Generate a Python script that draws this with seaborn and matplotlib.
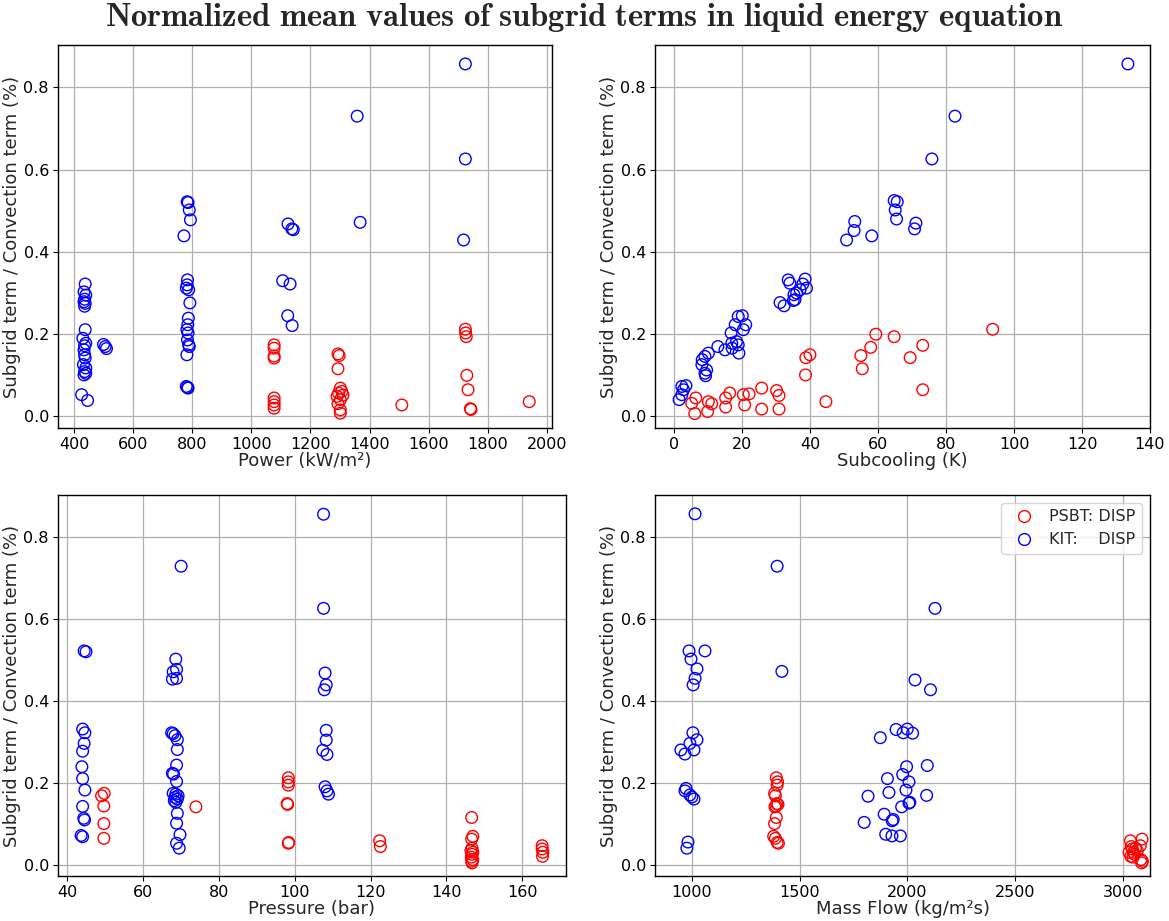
import numpy as np
import pandas as pd
import matplotlib
matplotlib.use("Agg")
import matplotlib.pyplot as plt
from matplotlib.lines import Line2D
import seaborn as sns

# ---------------- data ----------------
# Panel 1: Power (kW/m2)
p1_red_x = [1077, 1077, 1077, 1077, 1077, 1077, 1077, 1077,
            1293, 1297, 1293, 1301, 1306, 1295, 1310, 1290, 1301, 1293, 1301, 1301,
            1509,
            1724, 1725, 1727, 1729, 1733, 1741, 1743,
            1940]
p1_red_y = [0.174, 0.166, 0.147, 0.142, 0.045, 0.036, 0.028, 0.020,
            0.152, 0.148, 0.116, 0.069, 0.061, 0.057, 0.052, 0.049, 0.041, 0.031, 0.016, 0.008,
            0.028,
            0.212, 0.203, 0.194, 0.100, 0.065, 0.019, 0.017,
            0.036]
p1_blue_x = [438, 434, 440, 436, 434, 438, 436, 438, 430, 440, 436, 434, 436, 438, 432, 440, 436, 434, 440, 426, 446,
             500, 506, 510,
             783, 786, 790, 794, 772, 784, 783, 780, 788, 792, 787, 785, 782, 786, 784, 788, 790, 782, 780, 784, 786,
             1124, 1137, 1142, 1106, 1131, 1123, 1138,
             1368, 1358,
             1724, 1724, 1718]
p1_blue_y = [0.322, 0.303, 0.295, 0.285, 0.279, 0.275, 0.268, 0.211, 0.190, 0.178, 0.172, 0.162, 0.150, 0.142, 0.126, 0.118, 0.109, 0.101, 0.105, 0.053, 0.039,
             0.175, 0.170, 0.165,
             0.522, 0.520, 0.502, 0.478, 0.439, 0.332, 0.320, 0.312, 0.308, 0.276, 0.239, 0.223, 0.211, 0.203, 0.186, 0.174, 0.170, 0.150, 0.073, 0.071, 0.069,
             0.468, 0.456, 0.454, 0.330, 0.322, 0.245, 0.221,
             0.472, 0.730,
             0.857, 0.626, 0.429]

# Panel 2: Subcooling (K)
p2_red_x = [6.3, 5.1, 6.0, 10.0, 11.0, 9.8, 15.1, 16.3, 15.1, 20.3, 22.0, 20.7, 25.7, 25.7,
            30.1, 30.8, 30.8, 44.6, 38.7, 39.9, 38.6, 54.9, 55.3, 57.8, 59.3, 64.7, 69.4,
            73.1, 73.1, 93.7]
p2_red_y = [0.045, 0.032, 0.007, 0.036, 0.031, 0.012, 0.045, 0.057, 0.023, 0.053, 0.055, 0.028, 0.069, 0.018,
            0.063, 0.051, 0.018, 0.036, 0.143, 0.150, 0.101, 0.148, 0.116, 0.168, 0.200, 0.194, 0.143,
            0.173, 0.065, 0.212]
p2_blue_x = [64.7, 65.6, 65.0, 65.4, 71.1, 70.7, 53.1, 52.9, 50.7, 58.1, 133.5, 82.6, 75.8,
             33.5, 34.0, 38.5, 37.8, 38.9, 37.0, 36.0, 35.2, 35.5, 35.0, 31.1, 32.3,
             18.8, 20.0, 17.9, 21.0, 16.7, 20.3, 16.9, 18.3, 18.8, 17.0, 19.0, 12.8, 14.9,
             10.0, 9.0, 8.2, 8.1, 9.5, 9.0, 9.2, 2.2, 3.4, 2.7, 2.2, 1.4]
p2_blue_y = [0.525, 0.522, 0.502, 0.480, 0.470, 0.456, 0.474, 0.452, 0.429, 0.439, 0.857, 0.730, 0.626,
             0.332, 0.324, 0.334, 0.322, 0.312, 0.308, 0.300, 0.296, 0.284, 0.282, 0.277, 0.269,
             0.243, 0.245, 0.223, 0.223, 0.203, 0.211, 0.178, 0.182, 0.174, 0.166, 0.154, 0.170, 0.162,
             0.154, 0.146, 0.138, 0.126, 0.113, 0.105, 0.099, 0.073, 0.075, 0.065, 0.053, 0.041]

# Panel 3: Pressure (bar)
p3_red_x = [49.0, 49.7, 49.6, 49.6, 49.6, 73.9,
            98.3, 98.3, 98.3, 98.0, 98.1, 98.4, 98.3,
            122.4, 122.6,
            146.7, 147.0, 146.7, 146.8, 146.5, 147.0, 146.8, 146.6, 147.0, 146.7, 146.8,
            165.3, 165.3, 165.5, 165.4]
p3_red_y = [0.168, 0.174, 0.143, 0.100, 0.064, 0.141,
            0.212, 0.202, 0.194, 0.149, 0.147, 0.054, 0.052,
            0.058, 0.044,
            0.115, 0.069, 0.062, 0.040, 0.034, 0.030, 0.025, 0.018, 0.012, 0.008, 0.004,
            0.046, 0.038, 0.030, 0.020]
p3_blue_x = [44.4, 44.9, 44.0, 44.6, 44.4, 44.0, 43.8, 44.0, 44.6, 44.0, 44.3, 44.5, 43.6, 44.0,
             70.0, 68.6, 68.8, 67.9, 67.7, 68.8, 67.5, 67.9, 68.4, 69.0, 69.0, 68.8, 67.7, 68.0,
             68.8, 67.9, 68.6, 69.2, 68.4, 69.0, 68.2, 68.6, 69.0, 68.8, 69.7, 68.8, 69.5,
             107.6, 107.6, 108.0, 108.3, 107.8, 108.3, 108.3, 107.4, 108.5, 108.0, 108.5, 108.9]
p3_blue_y = [0.522, 0.520, 0.331, 0.322, 0.296, 0.277, 0.239, 0.210, 0.182, 0.142, 0.113, 0.109, 0.071, 0.068,
             0.729, 0.502, 0.477, 0.471, 0.453, 0.455, 0.322, 0.320, 0.315, 0.305, 0.281, 0.243, 0.223, 0.221,
             0.203, 0.174, 0.172, 0.168, 0.164, 0.160, 0.156, 0.152, 0.125, 0.101, 0.073, 0.052, 0.040,
             0.856, 0.626, 0.468, 0.439, 0.427, 0.328, 0.304, 0.279, 0.269, 0.190, 0.180, 0.172]

# Panel 4: Mass Flow (kg/m2s)
p4_red_x = [1392, 1398, 1396, 1384, 1388, 1394, 1400, 1390, 1386, 1392, 1384, 1380, 1388, 1396, 1402,
            3090, 3036, 3082, 3040, 3060, 3045, 3068, 3050, 3030, 3055, 3038, 3048, 3085, 3092, 3088]
p4_red_y = [0.212, 0.202, 0.194, 0.174, 0.168, 0.149, 0.147, 0.143, 0.141, 0.115, 0.100, 0.069, 0.064, 0.054, 0.052,
            0.062, 0.058, 0.046, 0.044, 0.040, 0.038, 0.034, 0.030, 0.030, 0.025, 0.020, 0.018, 0.012, 0.008, 0.004]
p4_blue_x = [1015, 987, 1061, 996, 1024, 1015, 1006, 1005, 1024, 991, 949, 1010, 968, 973, 968, 991, 1010, 1000, 982, 977,
             1396, 1418,
             1800, 1818, 1875, 1908, 1915, 1893, 1935, 1930, 1900, 1929, 1968, 1948, 1981, 2000, 2025, 1997, 2093,
             1979, 2008, 1994, 2012, 2008, 2090, 1974, 2129, 2036, 2108]
p4_blue_y = [0.857, 0.522, 0.522, 0.502, 0.478, 0.455, 0.439, 0.322, 0.305, 0.296, 0.280, 0.280, 0.270, 0.186, 0.180, 0.170, 0.160, 0.165, 0.055, 0.040,
             0.729, 0.472,
             0.103, 0.167, 0.310, 0.210, 0.176, 0.123, 0.110, 0.107, 0.074, 0.070, 0.070, 0.330, 0.322, 0.331, 0.321, 0.239, 0.242,
             0.220, 0.202, 0.182, 0.152, 0.150, 0.169, 0.141, 0.626, 0.451, 0.427]

series_labels = ["PSBT: DISP", "KIT:    DISP"]
series_colors = ["red", "blue"]
x_labels = ["Power (kW/m²)", "Subcooling (K)", "Pressure (bar)", "Mass Flow (kg/m²s)"]
y_label = "Subgrid term / Convection term (%)"

# ---------------- style ----------------
sns.set_style("ticks")
plt.rcParams["font.family"] = ["DejaVu Sans"]
plt.rcParams["mathtext.fontset"] = "cm"

W, H = 1169, 921
fig = plt.figure(figsize=(W / 100, H / 100), dpi=100)

def px_axes(l, t, r, b):
    return fig.add_axes([l / W, 1 - b / H, (r - l) / W, (b - t) / H])

ax1 = px_axes(58, 45, 552, 428)
ax2 = px_axes(655, 45, 1150, 428)
ax3 = px_axes(58, 495, 566, 876)
ax4 = px_axes(655, 495, 1150, 876)

panels = [
    (ax1, p1_red_x, p1_red_y, p1_blue_x, p1_blue_y, (346, 2017), np.arange(400, 2001, 200)),
    (ax2, p2_red_x, p2_red_y, p2_blue_x, p2_blue_y, (-5.7, 140), np.arange(0, 141, 20)),
    (ax3, p3_red_x, p3_red_y, p3_blue_x, p3_blue_y, (37.5, 171.6), np.arange(40, 161, 20)),
    (ax4, p4_red_x, p4_red_y, p4_blue_x, p4_blue_y, (829, 3127), np.arange(1000, 3001, 500)),
]

for i, (ax, rx, ry, bx, by, xlim, xticks) in enumerate(panels):
    for xs, ys, col in [(rx, ry, series_colors[0]), (bx, by, series_colors[1])]:
        df = pd.DataFrame({"x": xs, "y": ys})
        n_before = len(ax.collections)
        sns.scatterplot(data=df, x="x", y="y", color=col, s=70, marker="o", ax=ax, legend=False)
        for c in ax.collections[n_before:]:
            c.set_facecolor("none")
            c.set_edgecolor(col)
            c.set_linewidth(1.0)
    ax.set_xlim(*xlim)
    ax.set_ylim(-0.028, 0.903)
    ax.set_xticks(xticks)
    ax.set_yticks(np.arange(0, 0.81, 0.2))
    ax.set_yticklabels([f"{v:.1f}" for v in np.arange(0, 0.81, 0.2)])
    ax.grid(True, color="#b0b0b0", linewidth=0.9)
    ax.set_axisbelow(True)
    for s in ax.spines.values():
        s.set_color("black")
        s.set_linewidth(1.0)
    ax.tick_params(labelsize=11.5, colors="black", length=3.5, pad=3)
    ax.set_xlabel(x_labels[i], fontsize=13, labelpad=0)
    ax.set_ylabel(y_label, fontsize=13, labelpad=2)

handles = [Line2D([], [], marker="o", linestyle="none", markerfacecolor="none",
                  markeredgecolor=c, markersize=8.5, markeredgewidth=1.0) for c in series_colors]
ax4.legend(handles, series_labels, loc="upper right", fontsize=11.5, frameon=True,
           framealpha=0.8, edgecolor="#cccccc", fancybox=True, handletextpad=0.6)

fig.text(0.5, 1 - 18 / H, r"$\mathbf{Normalized\ mean\ values\ of\ subgrid\ terms\ in\ liquid\ energy\ equation}$",
         ha="center", va="center", fontsize=23.5)

fig.savefig("out.png", dpi=100)
